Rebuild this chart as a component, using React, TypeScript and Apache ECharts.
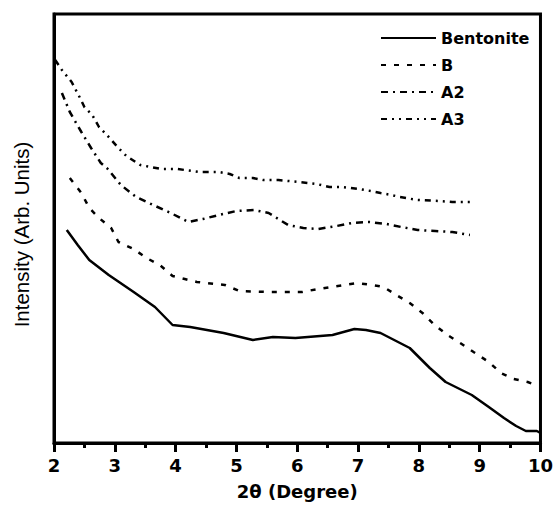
import React, { useEffect, useRef } from "react";
import * as echarts from "echarts";

const xTicks = [2, 3, 4, 5, 6, 7, 8, 9, 10];
const seriesNames = ["Bentonite", "B", "A2", "A3"];

const bentoniteX = [2.21, 2.39, 2.58, 2.9, 3.31, 3.66, 3.95, 4.24, 4.79, 5.27, 5.6, 5.97, 6.58, 6.94, 7.13, 7.37, 7.85, 8.18, 8.44, 8.87, 9.15, 9.4, 9.6, 9.76, 9.94, 10.0];
const bentoniteY = [213, 198, 183, 168, 151, 136, 118, 116, 110, 103, 106, 105, 108, 114, 113, 110, 95, 75, 61, 48, 36, 25, 17, 12, 12, 10];

const bX = [2.26, 2.45, 2.58, 2.74, 2.94, 3.06, 3.31, 3.52, 3.74, 3.95, 4.15, 4.35, 4.81, 5.05, 5.53, 6.08, 6.34, 6.77, 6.98, 7.23, 7.42, 7.63, 7.85, 8.06, 8.26, 8.47, 8.68, 8.9, 9.15, 9.35, 9.56, 9.79, 9.97];
const bY = [265, 250, 235, 225, 215, 201, 194, 185, 178, 167, 164, 161, 158, 152, 151, 151, 154, 158, 160, 158, 156, 148, 140, 130, 118, 108, 100, 91, 81, 70, 64, 61, 57];

const a2X = [2.13, 2.26, 2.45, 2.61, 2.77, 2.87, 3.1, 3.35, 3.63, 3.92, 4.21, 4.45, 4.71, 5.0, 5.29, 5.53, 5.85, 6.1, 6.34, 6.65, 6.9, 7.18, 7.47, 7.71, 7.98, 8.27, 8.55, 8.84];
const a2Y = [350, 331, 311, 295, 280, 275, 258, 246, 238, 230, 221, 224, 228, 232, 233, 230, 218, 215, 214, 217, 220, 221, 219, 216, 213, 212, 211, 208];

const a3X = [2.02, 2.13, 2.29, 2.42, 2.5, 2.63, 2.74, 2.87, 3.06, 3.19, 3.42, 3.76, 4.03, 4.39, 4.71, 4.89, 5.05, 5.27, 5.44, 5.69, 6.02, 6.32, 6.53, 6.73, 7.02, 7.21, 7.37, 7.55, 7.69, 7.98, 8.34, 8.55, 8.87];
const a3Y = [383, 373, 361, 346, 336, 328, 316, 308, 295, 287, 278, 274, 274, 271, 271, 269, 265, 265, 263, 263, 261, 259, 256, 256, 254, 252, 250, 248, 246, 243, 242, 241, 241];

const pair = (xs: number[], ys: number[]) => xs.map((x, i) => [x, ys[i]]);

export default function App() {
  const ref = useRef<HTMLDivElement>(null);
  useEffect(() => {
    if (!ref.current) return;
    const chart = echarts.init(ref.current, null, { renderer: "svg" });
    const mk = (name: string, data: number[][], type: any) => ({
      name,
      type: "line",
      data,
      symbol: "none",
      showSymbol: false,
      smooth: false,
      lineStyle: { color: "#000", width: 2.5, type },
      itemStyle: { color: "#000" },
    });
    chart.setOption({
      animation: false,
      backgroundColor: "#fff",
      grid: { left: 54, right: 6, top: 14, bottom: 62, show: true, borderColor: "#000", borderWidth: 3 },
      legend: {
        orient: "vertical",
        left: 375,
        top: 25,
        itemWidth: 55,
        itemHeight: 14,
        itemGap: 11,
        data: seriesNames,
        itemStyle: { opacity: 0 },
        textStyle: { fontFamily: "DejaVu Sans", fontWeight: "bold", fontSize: 16, color: "#000" },
      },
      xAxis: {
        type: "value",
        min: 2,
        max: 10,
        interval: 1,
        name: "2θ (Degree)",
        nameLocation: "middle",
        nameGap: 39,
        nameTextStyle: { fontFamily: "DejaVu Sans", fontWeight: "bold", fontSize: 18, color: "#000" },
        axisLine: { show: true, lineStyle: { color: "#000", width: 3 } },
        axisTick: { show: true, length: 9, lineStyle: { color: "#000", width: 3 } },
        minorTick: { show: true, splitNumber: 2, length: 5, lineStyle: { color: "#000", width: 3 } },
        splitLine: { show: false },
        minorSplitLine: { show: false },
        axisLabel: {
          margin: 13,
          fontFamily: "DejaVu Sans",
          fontWeight: "bold",
          fontSize: 18,
          color: "#000",
          formatter: (v: number) => (xTicks.includes(v) ? String(v) : ""),
        },
      },
      yAxis: {
        type: "value",
        min: 0,
        max: 429,
        name: "Intensity (Arb. Units)",
        nameLocation: "middle",
        nameGap: 22,
        nameTextStyle: { fontFamily: "Liberation Sans", fontSize: 20.5, color: "#000", padding: [0, 12, 0, 0] },
        axisLine: { show: true, lineStyle: { color: "#000", width: 3 } },
        axisTick: { show: false },
        axisLabel: { show: false },
        splitLine: { show: false },
      },
      series: [
        mk(seriesNames[0], pair(bentoniteX, bentoniteY), "solid"),
        mk(seriesNames[1], pair(bX, bY), [5, 8]),
        mk(seriesNames[2], pair(a2X, a2Y), [7, 5, 2, 5]),
        mk(seriesNames[3], pair(a3X, a3Y), [6, 5, 2, 5, 2, 5]),
      ],
    });
    return () => chart.dispose();
  }, []);
  return <div ref={ref} style={{ position: "absolute", left: 0, top: 0, width: 556, height: 505 }} />;
}
